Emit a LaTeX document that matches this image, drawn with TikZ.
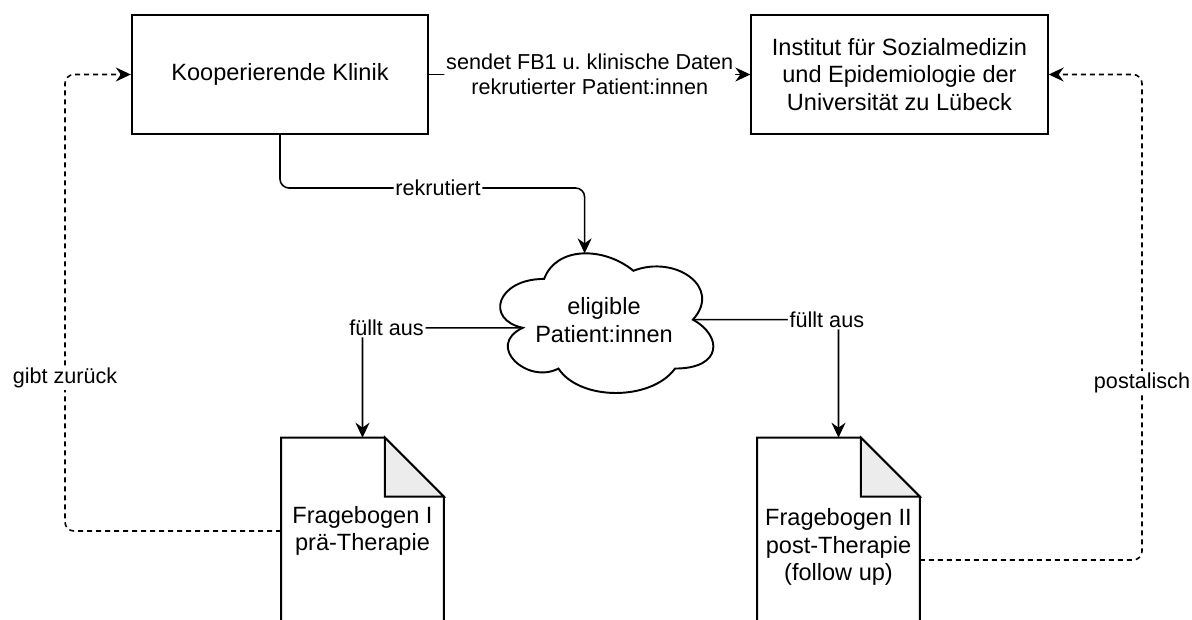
\documentclass[tikz,border=0pt]{standalone}
\usepackage{fontspec}
\setmainfont{Liberation Sans}
\usetikzlibrary{
    positioning,
    arrows.meta
    }

\begin{document}
\begin{tikzpicture}[x=0.02cm, y=-0.02cm]
\tikzset{box/.style =
        {
            rectangle,
            line width=1.1pt,
            minimum width=5.93cm,
            minimum height=2.38cm,
            align=center,
            font=\fontsize{13.4}{15.8}\selectfont,
            draw
        }
}

\tikzset{doc/.style =
        {
            rectangle,
            minimum width=3.24cm,
            align=center,
            font=\fontsize{13.4}{15.8}\selectfont
        }
}

\tikzset{cloudbox/.style =
        {
            rectangle,
            minimum width=4.76cm,
            minimum height=3.26cm,
            align=center,
            font=\fontsize{13.4}{15.8}\selectfont
        }
}

\tikzset{flow/.style = {
            line width=0.9pt,
            rounded corners=0.18cm,
            -{Stealth[length=0.3cm, width=0.28cm, inset=0.1cm]}
        }
}

\tikzset{back/.style = {
            flow,
            dash pattern=on 0.1cm off 0.08cm
        }
}

\tikzset{elabel/.style = {
            fill=white,
            inner sep=1pt,
            align=center,
            font=\fontsize{12.3}{14.4}\selectfont
        }
}

		\fill[white] (0,0) rectangle (1192,619);
		\clip (0,0) rectangle (1192,619);

		\node[box] (klinik) at (280,74.5) {Kooperierende Klinik};
		\node[box] (institut) at (899.5,74.5) {Institut für Sozialmedizin\\und Epidemiologie der\\Universität zu Lübeck};
		\node[cloudbox] (patients) at (604,320) {eligible\\Patient:innen};
		\node[doc, minimum height=3.72cm] (fb1) at (362.5,531) {Fragebogen I\\prä-Therapie};
		\node[doc, minimum height=4.36cm] (fb2) at (838.5,547) {Fragebogen II\\post-Therapie\\(follow up)};

		% cloud outline in the box of the node
		\begin{scope}[shift={(patients.north west)}, x=4.76cm, y=-3.26cm]
			\draw [line width=1.1pt] (0.25,0.25)
			.. controls (0.05,0.25) and (0,0.5) .. (0.16,0.55)
			.. controls (0,0.66) and (0.18,0.9) .. (0.31,0.8)
			.. controls (0.4,1) and (0.7,1) .. (0.8,0.8)
			.. controls (1,0.8) and (1,0.6) .. (0.875,0.5)
			.. controls (1,0.3) and (0.8,0.1) .. (0.625,0.2)
			.. controls (0.5,0.05) and (0.3,0.05) .. (0.25,0.25) -- cycle;
			\coordinate (pt) at (0.42,0.093);
			\coordinate (pl) at (0.16,0.55);
			\coordinate (pr) at (0.875,0.5);
		\end{scope}

		% questionnaires with folded corner
		\foreach \d in {fb1, fb2}
			{
				\draw [line width=1.1pt] (\d.south west) -- (\d.north west) -- ([xshift=-1.18cm]\d.north east)
				-- ([yshift=-1.18cm]\d.north east) -- (\d.south east) -- cycle;
				\draw [line width=1.1pt, fill=gray!15] ([xshift=-1.18cm]\d.north east) |- ([yshift=-1.18cm]\d.north east) -- cycle;
			}

		\coordinate (rk) at (438,188);
		\coordinate (gz) at (65,378);
		\coordinate (pa) at (1142,383);

		\draw [flow] (klinik) -- node[elabel] {sendet FB1 u.\ klinische Daten\\rekrutierter Patient:innen} (institut);
		\draw [flow] (klinik.south) |- (rk) node[elabel] {rekrutiert} -| (pt);
		\draw [flow] (pl) -| node[elabel, pos=0.425] {füllt aus} (fb1.north);
		\draw [flow] (pr) -| node[elabel, pos=0.46] {füllt aus} (fb2.north);
		\draw [back] (fb1.west) -| (gz) node[elabel] {gibt zurück} |- (klinik.west);
		\draw [back] ([yshift=-0.26cm]fb2.east) -| (pa) node[elabel] {postalisch} |- (institut.east);

	\end{tikzpicture}
\end{document}
